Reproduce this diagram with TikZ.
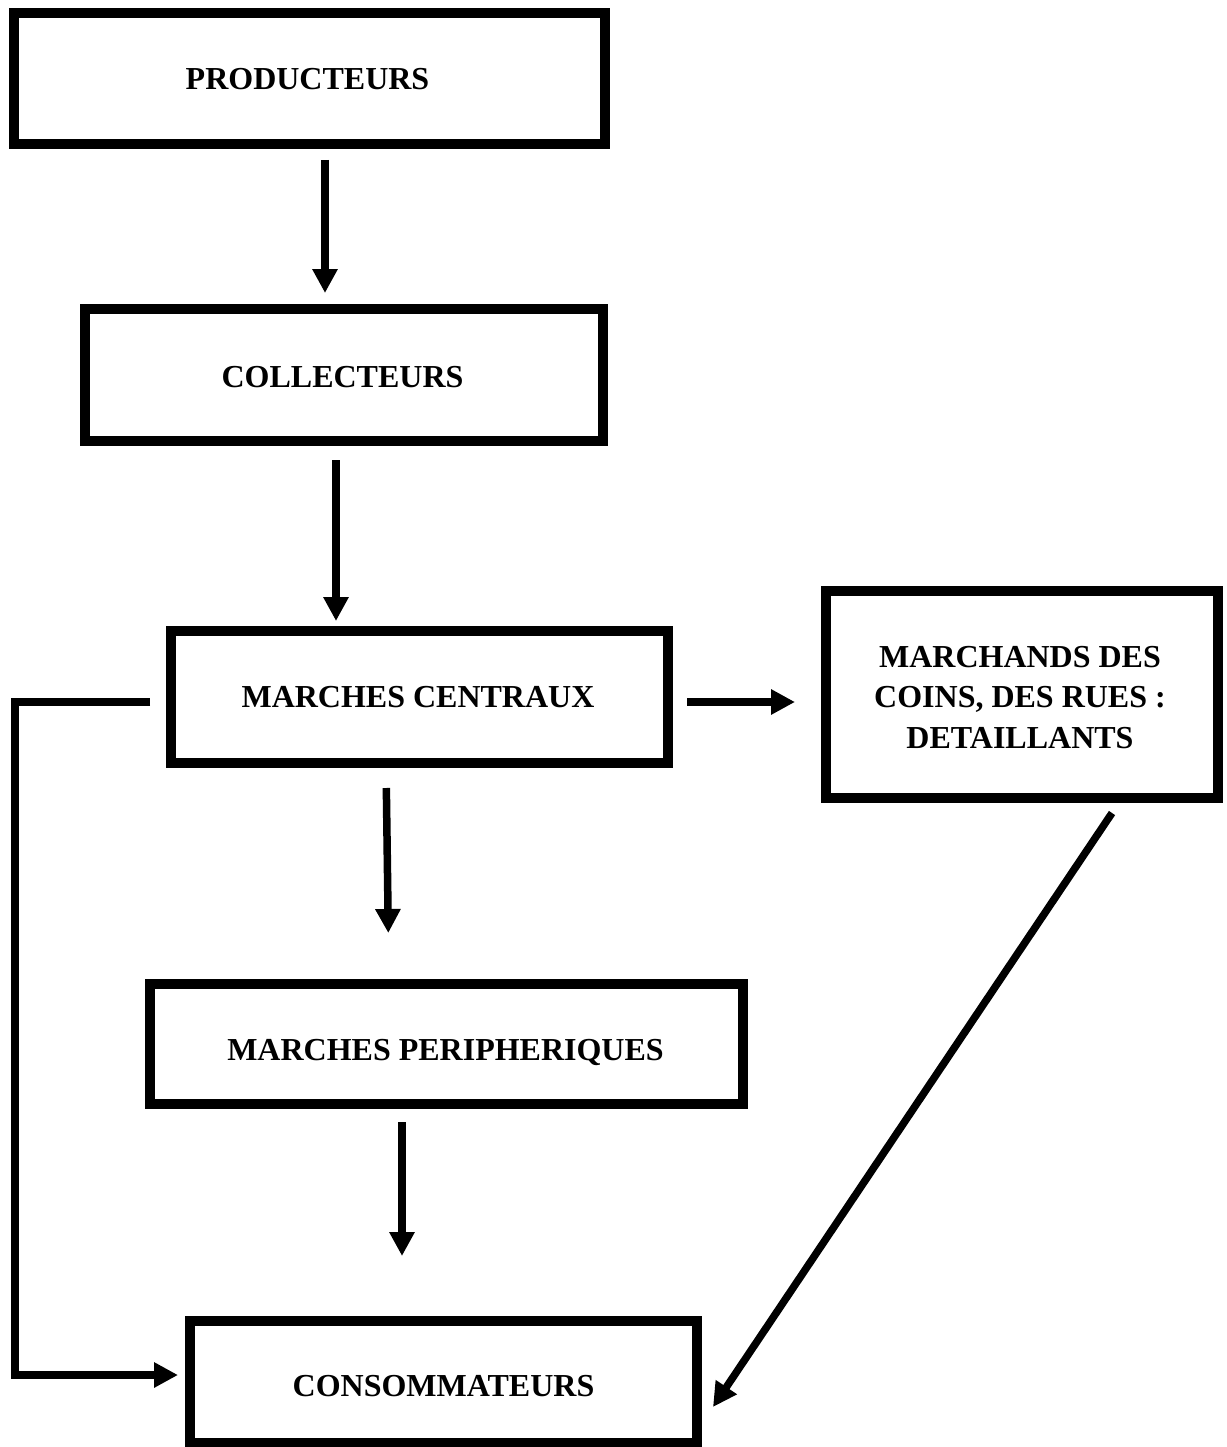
\documentclass[tikz,border=0pt]{standalone}
\usepackage{fontspec}
\setmainfont{Liberation Serif}
\usetikzlibrary{arrows.meta}
\begin{document}
\begin{tikzpicture}[x=1pt,y=-1pt,
  box/.style={draw, line width=9.5pt, inner sep=0pt, outer sep=0pt, rectangle},
  lbl/.style={inner sep=0pt, outer sep=0pt, font=\fontsize{32}{40.5}\selectfont\bfseries},
  arr/.style={line width=7.5pt, line join=miter, -{Triangle[length=24pt,width=24pt]}}]
\useasboundingbox (0,0) rectangle (1226,1447);
% boxes
\node[box, minimum width=591pt, minimum height=131pt] (prod)  at (309.5,78.5) {};
\node[box, minimum width=518pt, minimum height=132pt] (coll)  at (344,375) {};
\node[box, minimum width=497pt, minimum height=132pt] (mc)    at (419.5,697) {};
\node[box, minimum width=392pt, minimum height=207pt] (march) at (1022,694.5) {};
\node[box, minimum width=593pt, minimum height=120pt] (mp)    at (446.5,1044) {};
\node[box, minimum width=507pt, minimum height=122pt] (cons)  at (443.5,1382) {};
% labels
\node[lbl, anchor=base] (prodt) at (307.5,90) {PRODUCTEURS};
\node[lbl, anchor=base] (collt) at (342.5,387) {COLLECTEURS};
\node[lbl, anchor=base] (mct) at (418,707) {MARCHES CENTRAUX};
\node[lbl, align=center] (marcht) at (1020,697.5) {MARCHANDS DES\\COINS, DES RUES :\\DETAILLANTS};
\node[lbl, anchor=base] (mpt) at (445.5,1060) {MARCHES PERIPHERIQUES};
\node[lbl, anchor=base] (const) at (443.5,1396) {CONSOMMATEURS};
% connectors
\draw[arr, shorten <=16pt, shorten >=16pt] ([xshift=15.5pt]prod.south) -- ([xshift=-19pt]coll.north);
\draw[arr, shorten <=19pt, shorten >=10pt] ([xshift=-8pt]coll.south) -- ([xshift=-83.5pt]mc.north);
\draw[arr, shorten <=25pt, shorten >=51pt] ([xshift=-33.5pt]mc.south) -- ([xshift=-57.5pt]mp.north);
\draw[arr, shorten <=18pt, shorten >=65pt] ([xshift=-44.5pt]mp.south) -- ([xshift=-41.5pt]cons.north);
\draw[arr, shorten <=19pt, shorten >=31pt] ([yshift=-5pt]mc.east) -- ([yshift=-7.5pt]march.west);
\coordinate (lc1) at (15,702);
\coordinate (lc2) at (15,1375);
\draw[arr] ([xshift=-21pt,yshift=-5pt]mc.west) -- (lc1) -- (lc2) -- ([xshift=-12pt,yshift=7pt]cons.west);
\draw[arr] ([xshift=90pt,yshift=-15pt]march.south) -- ([xshift=16pt,yshift=-25pt]cons.east);
\end{tikzpicture}
\end{document}
